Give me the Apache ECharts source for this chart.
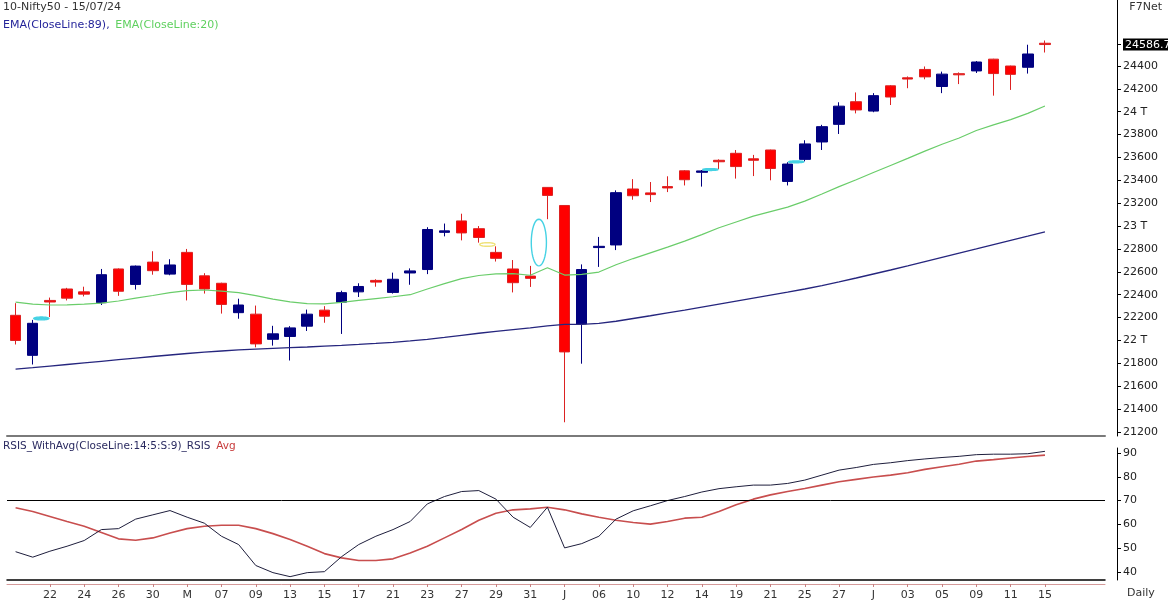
<!DOCTYPE html>
<html>
<head>
<meta charset="utf-8">
<title>Nifty50</title>
<script src="https://cdn.jsdelivr.net/npm/echarts@6/dist/echarts.min.js"></script>
<style>
  html, body { margin: 0; padding: 0; background: #fff; }
  #chart { width: 1168px; height: 604px; }
</style>
</head>
<body>
<div id="chart"></div>
<script>
// trading days shown (dd/mm, 2024)
var days = ['18/04','19/04','22/04','23/04','24/04','25/04','26/04','29/04','30/04',
  '02/05','03/05','06/05','07/05','08/05','09/05','10/05','13/05','14/05','15/05','16/05','17/05','18/05',
  '21/05','22/05','23/05','24/05','27/05','28/05','29/05','30/05','31/05',
  '03/06','04/06','05/06','06/06','07/06','10/06','11/06','12/06','13/06','14/06','18/06','19/06','20/06',
  '21/06','24/06','25/06','26/06','27/06','28/06',
  '01/07','02/07','03/07','04/07','05/07','08/07','09/07','10/07','11/07','12/07','15/07'];
// labels on every second day, starting at 22/04
var xTickLabels = ['22','24','26','30','M','07','09','13','15','17','21','23','27','29','31',
  'J','06','10','12','14','19','21','25','27','J','03','05','09','11','15'];

var opens  = [22220,21870,22350,22450,22425,22330,22625,22490,22685,22580,22770,22565,22500,22243,22230,22010,22035,22125,22265,22335,22425,22525,22420,22590,22620,22945,23045,22977,22770,22625,22563,23338,23180,22144,22812,22835,23324,23290,23345,23483,23470,23575,23636,23588,23665,23390,23583,23735,23889,24087,24005,24226,24296,24369,24220,24332,24356,24459,24399,24388,24598];
var highs  = [22326,22180,22375,22460,22470,22625,22630,22655,22780,22710,22800,22588,22505,22365,22305,22128,22125,22270,22300,22435,22500,22535,22593,22630,22990,23022,23108,23000,22823,22703,22652,23340,23180,22665,22905,23312,23410,23385,23435,23489,23490,23583,23665,23622,23668,23558,23750,23885,24082,24168,24162,24232,24308,24395,24350,24343,24442,24462,24402,24585,24622];
var lows   = [21965,21790,22205,22350,22385,22310,22390,22445,22575,22570,22350,22410,22235,22190,21940,21955,21825,22083,22155,22057,22380,22470,22410,22487,22580,22910,22875,22855,22690,22420,22468,23060,21285,21797,22643,22790,23230,23210,23297,23355,23345,23498,23415,23437,23400,23355,23565,23665,23805,23985,23995,24058,24205,24283,24162,24241,24338,24140,24190,24333,24517];
var closes = [22000,22150,22336,22370,22405,22575,22430,22650,22610,22660,22490,22450,22315,22310,21970,22058,22110,22230,22212,22418,22472,22510,22535,22608,22970,22958,22940,22900,22718,22505,22543,23268,21900,22620,22823,23292,23265,23275,23333,23405,23482,23562,23520,23575,23503,23542,23718,23869,24048,24015,24140,24128,24285,24304,24328,24322,24434,24333,24326,24504,24586.7];

var ema89 = [21750,21762,21776,21790,21804,21818,21832,21846,21860,21873,21886,21898,21908,21918,21925,21931,21937,21943,21950,21957,21965,21974,21984,21996,22010,22027,22045,22063,22080,22095,22110,22128,22140,22140,22150,22168,22192,22216,22241,22266,22292,22318,22344,22370,22396,22422,22450,22480,22512,22546,22581,22616,22652,22689,22726,22763,22800,22838,22875,22912,22950];
var ema20 = [22335,22318,22310,22312,22318,22326,22345,22370,22393,22418,22436,22441,22432,22418,22392,22362,22337,22322,22320,22333,22350,22366,22382,22400,22450,22497,22540,22568,22582,22585,22570,22636,22572,22578,22598,22662,22716,22766,22816,22868,22925,22985,23036,23087,23126,23165,23218,23280,23345,23405,23468,23530,23592,23655,23715,23770,23835,23885,23930,23985,24050];

var rsis    = [48.5,46.2,48.7,50.8,53.2,57.8,58.2,62.2,64,65.8,63,60.5,55,51.5,42.7,39.7,38,39.7,40.1,46.4,51.5,55,57.8,61.2,68.6,71.7,73.8,74.2,70.6,63,58.7,67.2,50.1,51.9,55,62.2,65.7,67.8,70,71.7,73.6,75,75.8,76.5,76.5,77.2,78.6,80.7,82.8,83.9,85.2,85.9,86.8,87.5,88.1,88.6,89.3,89.5,89.5,89.7,90.7];
var rsisAvg = [67,65.4,63.3,61.2,59.2,56.6,53.9,53.3,54.3,56.4,58.2,59.2,59.6,59.6,58.2,56.1,53.6,50.8,47.7,45.9,44.8,44.8,45.5,48,50.8,54.3,57.8,61.7,64.7,66.1,66.5,67.2,66.1,64.4,63,61.7,60.8,60.1,61.2,62.6,63,65.4,68.2,70.6,72.4,73.8,75.1,76.5,77.9,78.9,79.9,80.7,81.7,83.1,84.2,85.3,86.6,87.2,87.9,88.5,89.1];

var priceTicks = [21200,21400,21600,21800,22000,22200,22400,22600,22800,23000,23200,23400,23600,23800,24000,24200,24400];
var rsiTicks = [40,50,60,70,80,90];
var rsiLevel = 70;

var lastClose = closes[closes.length - 1];
var cats = days.concat(['', '', '']); // empty room on the right

var candleData = days.map(function (d, i) { return [opens[i], closes[i], lows[i], highs[i]]; });

// gaps between consecutive candles
var gaps = [];
for (var i = 0; i < days.length - 1; i++) {
  if (lows[i + 1] > highs[i]) gaps.push([i, highs[i], lows[i + 1], 1]);
  else if (highs[i + 1] < lows[i]) gaps.push([i, highs[i + 1], lows[i], 0]);
}

function showTick(idx) { return idx >= 2 && idx < days.length && idx % 2 === 0; }

function renderGap(params, api) {
  var i = api.value(0);
  var a = api.coord([i, api.value(2)]);
  var b = api.coord([i + 1, api.value(1)]);
  var cx = (a[0] + b[0]) / 2, cy = (a[1] + b[1]) / 2;
  var rx = (b[0] - a[0]) / 2 - 1;
  var ry = Math.max(Math.abs(b[1] - a[1]) / 2, 0.9);
  var pts = [];
  for (var k = 0; k < 40; k++) {
    var t = k / 40 * Math.PI * 2;
    pts.push([cx + rx * Math.cos(t), cy + ry * Math.sin(t)]);
  }
  var col = api.value(3) ? '#46d2e4' : '#efe27a';
  return {
    type: 'polygon',
    shape: { points: pts },
    style: { fill: ry < 1.5 ? col : 'none', stroke: col, lineWidth: 1.4 }
  };
}

var chart = echarts.init(document.getElementById('chart'), null, { renderer: 'canvas' });
chart.setOption({
  animation: false,
  backgroundColor: '#fff',
  textStyle: { fontFamily: 'DejaVu Sans' },
  title: [
    { text: '10-Nifty50 - 15/07/24', left: 3, top: 2, padding: 0,
      textStyle: { fontSize: 11, fontWeight: 'normal', color: '#333' } },
    { text: '{a|EMA(CloseLine:89),} {b|EMA(CloseLine:20)}', left: 3, top: 16, padding: 0,
      textStyle: { fontWeight: 'normal', rich: {
        a: { fontSize: 11, fontWeight: 'normal', color: '#24249a' },
        b: { fontSize: 11, fontWeight: 'normal', color: '#5fd05f' } } } },
    { text: 'F7Net', right: 6, top: 2, padding: 0,
      textStyle: { fontSize: 11, fontWeight: 'normal', color: '#333' } },
    { text: '{a|RSIS_WithAvg(CloseLine:14:5:S:9)_RSIS} {b|Avg}', left: 3, top: 437, padding: 0,
      textStyle: { fontWeight: 'normal', rich: {
        a: { fontSize: 10.5, fontWeight: 'normal', color: '#2a2a60' },
        b: { fontSize: 10.5, fontWeight: 'normal', color: '#c83c3c' } } } },
    { text: 'Daily', left: 1127, top: 588, padding: 0,
      textStyle: { fontSize: 11, fontWeight: 'normal', color: '#333' } }
  ],
  grid: [
    { left: 7, right: 63, top: 0, bottom: 168, outerBoundsMode: 'none' },
    { left: 7, right: 63, top: 448, bottom: 24, outerBoundsMode: 'none' }
  ],
  xAxis: [
    { type: 'category', gridIndex: 0, data: cats, boundaryGap: true,
      axisLine: { lineStyle: { color: '#7a7a7a', width: 2 } },
      axisTick: { show: false }, axisLabel: { show: false }, splitLine: { show: false } },
    { type: 'category', gridIndex: 1, data: cats, boundaryGap: true,
      axisLine: { lineStyle: { color: '#000', width: 1.5 } },
      axisTick: { show: false }, axisLabel: { show: false }, splitLine: { show: false } },
    { type: 'category', gridIndex: 1, data: cats, boundaryGap: true, position: 'bottom', offset: 4,
      axisLine: { lineStyle: { color: '#d49a9a', width: 1 } },
      axisTick: { show: true, alignWithLabel: true, interval: showTick, length: 3, lineStyle: { color: '#c88080' } },
      axisLabel: { interval: showTick, margin: 6, fontSize: 11, color: '#333',
        formatter: function (v, idx) { return xTickLabels[(idx - 2) / 2] || ''; } },
      splitLine: { show: false } }
  ],
  yAxis: [
    { type: 'value', gridIndex: 0, position: 'right', offset: 12,
      min: 21165, max: 24976, scale: true,
      axisLine: { show: true, lineStyle: { color: '#000' } },
      axisTick: { show: true, length: 4, customValues: priceTicks.concat([lastClose]), lineStyle: { color: '#000' } },
      axisLabel: { margin: 6, fontSize: 11, color: '#222', customValues: priceTicks.concat([lastClose]),
        formatter: function (v) {
          if (v === lastClose) return '{hl|' + v.toFixed(1) + '}';
          if (v % 1000 === 0) return (v / 1000) + ' T';
          return String(v);
        },
        rich: { hl: { backgroundColor: '#000', color: '#fff', fontSize: 11, padding: [1, 2, 0, 2] } } },
      splitLine: { show: false } },
    { type: 'value', gridIndex: 1, position: 'right', offset: 12,
      min: 36.6, max: 92.1,
      axisLine: { show: true, lineStyle: { color: '#000' } },
      axisTick: { show: true, length: 4, customValues: rsiTicks, lineStyle: { color: '#000' } },
      axisLabel: { margin: 6, fontSize: 11, color: '#222', customValues: rsiTicks },
      splitLine: { show: false } }
  ],
  series: [
    { name: 'Nifty50', type: 'candlestick', xAxisIndex: 0, yAxisIndex: 0, data: candleData,
      barWidth: 11,
      itemStyle: { color: '#000080', color0: '#ff0000', borderColor: '#000080', borderColor0: '#dc2222', borderWidth: 1 } },
    { name: 'EMA89', type: 'line', xAxisIndex: 0, yAxisIndex: 0, data: ema89,
      symbol: 'none', lineStyle: { color: '#26267e', width: 1.3 }, z: 3 },
    { name: 'EMA20', type: 'line', xAxisIndex: 0, yAxisIndex: 0, data: ema20,
      symbol: 'none', lineStyle: { color: '#6acd6a', width: 1.2 }, z: 3 },
    { name: 'gaps', type: 'custom', xAxisIndex: 0, yAxisIndex: 0, data: gaps,
      renderItem: renderGap, encode: { x: 0, y: [1, 2] }, silent: true, z: 4 },
    { name: 'RSIS', type: 'line', xAxisIndex: 1, yAxisIndex: 1, data: rsis,
      symbol: 'none', lineStyle: { color: '#1e1e3c', width: 1 }, z: 4,
      markLine: { silent: true, symbol: 'none', label: { show: false },
        lineStyle: { color: '#000', width: 1, type: 'solid' }, data: [{ yAxis: rsiLevel }] } },
    { name: 'Avg', type: 'line', xAxisIndex: 1, yAxisIndex: 1, data: rsisAvg,
      symbol: 'none', lineStyle: { color: '#c84e4e', width: 1.6 }, z: 3 }
  ]
});
</script>
</body>
</html>
